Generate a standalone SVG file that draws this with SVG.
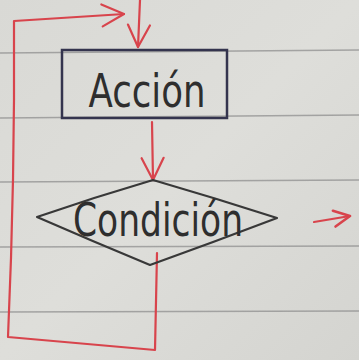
<svg xmlns="http://www.w3.org/2000/svg" width="359" height="360" viewBox="0 0 359 360">
  <defs>
    <linearGradient id="paper" x1="0" y1="0" x2="1" y2="1">
      <stop offset="0" stop-color="#d9d9d5"/>
      <stop offset="0.5" stop-color="#dededa"/>
      <stop offset="1" stop-color="#d4d4d0"/>
    </linearGradient>
    <marker id="vhead" viewBox="0 0 20 20" refX="18" refY="10" markerWidth="20" markerHeight="20" markerUnits="userSpaceOnUse" orient="auto">
      <path d="M2,2 L18,10 L2,18" fill="none" stroke="#d8444c" stroke-width="2.6" stroke-linecap="round" stroke-linejoin="round"/>
    </marker>
    <marker id="vheadL" viewBox="0 0 28 28" refX="26" refY="14" markerWidth="28" markerHeight="28" markerUnits="userSpaceOnUse" orient="auto">
      <path d="M4,3 L26,14 L4,25" fill="none" stroke="#d8444c" stroke-width="2.2" stroke-linecap="round" stroke-linejoin="round"/>
    </marker>
  </defs>
  <style>
    .rule { stroke: #8f8f8f; stroke-width: 1.5; fill: none; opacity: 0.75; }
    .red { stroke: #d8444c; stroke-width: 2.2; fill: none; stroke-linecap: round; stroke-linejoin: round; }
    .ink { stroke: #383838; stroke-width: 2.2; fill: none; stroke-linejoin: round; }
    .hand { font-family: "DejaVu Sans", "Liberation Sans", sans-serif; fill: #2e2e2e; }
  </style>
  <rect x="0" y="0" width="359" height="360" fill="url(#paper)"/>
  <g id="ruled-lines">
    <line class="rule" x1="0" y1="53" x2="359" y2="50"/>
    <line class="rule" x1="0" y1="118" x2="359" y2="115"/>
    <line class="rule" x1="0" y1="182" x2="359" y2="180"/>
    <line class="rule" x1="0" y1="247" x2="359" y2="246"/>
    <line class="rule" x1="0" y1="312" x2="359" y2="311"/>
  </g>
  <g id="connectors">
    <path class="red" d="M140,0 L138,47" marker-end="url(#vheadL)"/>
    <path class="red" d="M152,122 L153,180" marker-end="url(#vheadL)"/>
    <path class="red" d="M157,253 L155,350 L8,337 Q15,180 14,21 L124,14" marker-end="url(#vheadL)"/>
    <path class="red" d="M314,222 L350,216" marker-end="url(#vhead)"/>
  </g>
  <g id="accion">
    <rect x="62" y="50" width="165" height="68" fill="none" stroke="#34344e" stroke-width="2.5"/>
    <text class="hand" x="147" y="107" font-size="46" text-anchor="middle" textLength="117" lengthAdjust="spacingAndGlyphs">Acción</text>
  </g>
  <g id="condicion">
    <path class="ink" d="M37,217 Q95,197 153,180 Q215,198 277,218 Q214,242 150,265 Q92,241 37,217 Z"/>
    <text class="hand" x="158" y="236" font-size="46" text-anchor="middle" textLength="170" lengthAdjust="spacingAndGlyphs">Condición</text>
  </g>
</svg>
